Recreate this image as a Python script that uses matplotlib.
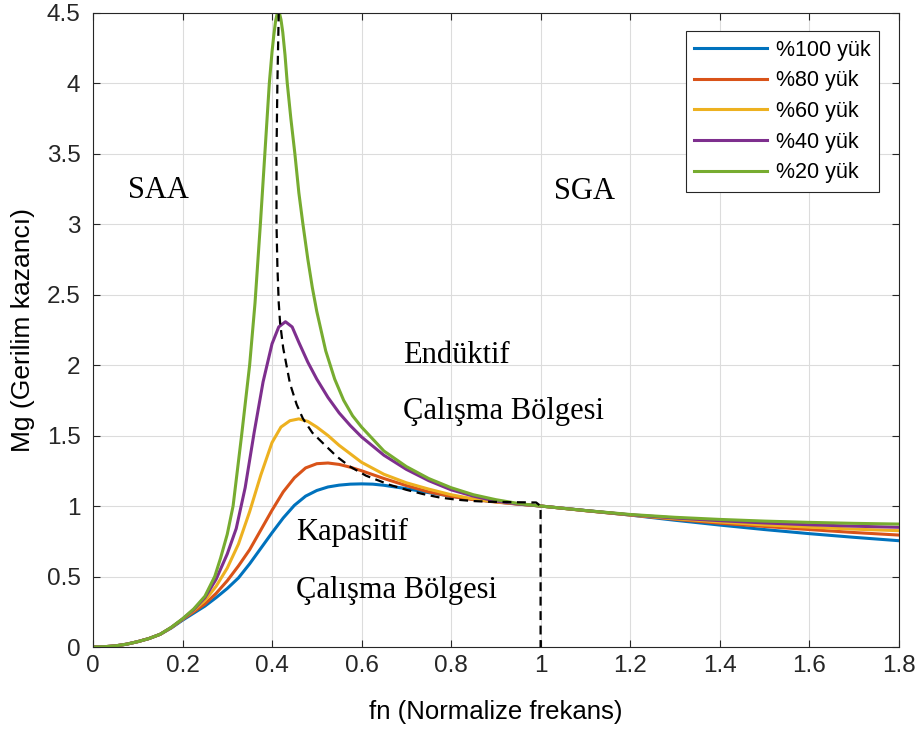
import matplotlib.pyplot as plt

# Gain curves Mg(fn) for different load levels
fn_100 = [0, 0.025, 0.05, 0.075, 0.1, 0.125, 0.15, 0.175, 0.2, 0.225, 0.25, 0.275, 0.3, 0.325, 0.35, 0.375, 0.4, 0.425, 0.45, 0.475, 0.5, 0.525, 0.55, 0.575, 0.6, 0.625, 0.65, 0.7, 0.75, 0.8, 0.85, 0.9, 0.95, 1.0, 1.1, 1.2, 1.3, 1.4, 1.5, 1.6, 1.7, 1.8]
mg_100 = [0, 0.002, 0.008, 0.02, 0.038, 0.06, 0.09, 0.135, 0.19, 0.24, 0.29, 0.35, 0.415, 0.49, 0.59, 0.70, 0.81, 0.915, 1.005, 1.07, 1.11, 1.135, 1.148, 1.155, 1.157, 1.155, 1.147, 1.123, 1.095, 1.07, 1.048, 1.03, 1.014, 1.0, 0.968, 0.936, 0.899, 0.865, 0.833, 0.804, 0.778, 0.754]

fn_80 = [0, 0.025, 0.05, 0.075, 0.1, 0.125, 0.15, 0.175, 0.2, 0.225, 0.25, 0.275, 0.3, 0.325, 0.35, 0.375, 0.4, 0.425, 0.45, 0.475, 0.5, 0.525, 0.55, 0.575, 0.6, 0.65, 0.7, 0.75, 0.8, 0.85, 0.9, 0.95, 1.0, 1.1, 1.2, 1.3, 1.4, 1.5, 1.6, 1.7, 1.8]
mg_80 = [0, 0.002, 0.008, 0.02, 0.038, 0.06, 0.09, 0.137, 0.195, 0.25, 0.305, 0.38, 0.47, 0.575, 0.69, 0.83, 0.97, 1.10, 1.20, 1.27, 1.30, 1.305, 1.295, 1.275, 1.25, 1.195, 1.145, 1.10, 1.068, 1.045, 1.028, 1.013, 1.0, 0.967, 0.936, 0.906, 0.878, 0.855, 0.833, 0.812, 0.794]

fn_60 = [0, 0.025, 0.05, 0.075, 0.1, 0.125, 0.15, 0.175, 0.2, 0.225, 0.25, 0.275, 0.3, 0.325, 0.35, 0.375, 0.4, 0.42, 0.44, 0.46, 0.48, 0.5, 0.525, 0.55, 0.575, 0.6, 0.65, 0.7, 0.75, 0.8, 0.85, 0.9, 0.95, 1.0, 1.1, 1.2, 1.3, 1.4, 1.5, 1.6, 1.7, 1.8]
mg_60 = [0, 0.002, 0.008, 0.02, 0.038, 0.06, 0.09, 0.138, 0.197, 0.26, 0.33, 0.43, 0.56, 0.73, 0.96, 1.22, 1.45, 1.56, 1.605, 1.618, 1.60, 1.56, 1.50, 1.43, 1.37, 1.31, 1.225, 1.165, 1.12, 1.08, 1.05, 1.03, 1.014, 1.0, 0.967, 0.937, 0.91, 0.887, 0.866, 0.85, 0.836, 0.825]

fn_40 = [0, 0.025, 0.05, 0.075, 0.1, 0.125, 0.15, 0.175, 0.2, 0.225, 0.25, 0.275, 0.3, 0.32, 0.34, 0.36, 0.38, 0.4, 0.415, 0.43, 0.445, 0.46, 0.48, 0.5, 0.525, 0.55, 0.575, 0.6, 0.65, 0.7, 0.75, 0.8, 0.85, 0.9, 0.95, 1.0, 1.1, 1.2, 1.3, 1.4, 1.5, 1.6, 1.7, 1.8]
mg_40 = [0, 0.002, 0.008, 0.02, 0.038, 0.06, 0.09, 0.139, 0.198, 0.265, 0.35, 0.48, 0.66, 0.84, 1.13, 1.52, 1.88, 2.15, 2.27, 2.307, 2.27, 2.16, 2.02, 1.90, 1.77, 1.66, 1.57, 1.49, 1.36, 1.26, 1.18, 1.115, 1.07, 1.035, 1.014, 1.0, 0.968, 0.938, 0.915, 0.896, 0.88, 0.867, 0.857, 0.849]

fn_20 = [0, 0.025, 0.05, 0.075, 0.1, 0.125, 0.15, 0.175, 0.2, 0.225, 0.25, 0.272, 0.285, 0.3, 0.313, 0.332, 0.35, 0.362, 0.374, 0.384, 0.394, 0.4, 0.404, 0.408, 0.411, 0.414, 0.417, 0.42, 0.424, 0.429, 0.434, 0.442, 0.451, 0.46, 0.469, 0.48, 0.49, 0.5, 0.52, 0.54, 0.56, 0.58, 0.6, 0.65, 0.7, 0.75, 0.8, 0.85, 0.9, 0.95, 1.0, 1.1, 1.2, 1.3, 1.4, 1.5, 1.6, 1.7, 1.8]
mg_20 = [0, 0.002, 0.008, 0.02, 0.038, 0.06, 0.09, 0.14, 0.2, 0.27, 0.36, 0.5, 0.63, 0.8, 1.0, 1.5, 2.0, 2.44, 3.0, 3.5, 4.0, 4.22, 4.34, 4.44, 4.485, 4.5, 4.49, 4.45, 4.36, 4.2, 4.0, 3.75, 3.5, 3.22, 3.0, 2.75, 2.55, 2.38, 2.1, 1.9, 1.75, 1.64, 1.56, 1.39, 1.28, 1.195, 1.13, 1.08, 1.045, 1.018, 1.0, 0.968, 0.94, 0.92, 0.905, 0.893, 0.884, 0.877, 0.872]

# Boundary between capacitive and inductive operation
fn_border = [0.415, 0.412, 0.41, 0.41, 0.412, 0.415, 0.418, 0.425, 0.44, 0.455, 0.469, 0.49, 0.514, 0.545, 0.574, 0.61, 0.663, 0.7, 0.737, 0.775, 0.812, 0.85, 0.886, 0.94, 0.99, 1.0, 1.0]
mg_border = [4.5, 4.0, 3.5, 3.0, 2.7, 2.44, 2.3, 2.12, 1.87, 1.72, 1.62, 1.52, 1.445, 1.35, 1.28, 1.215, 1.15, 1.115, 1.085, 1.06, 1.045, 1.035, 1.03, 1.027, 1.025, 1.0, 0.0]

series = [(fn_100, mg_100, '%100 yük', '#0072BD'),
          (fn_80, mg_80, '%80 yük', '#D95319'),
          (fn_60, mg_60, '%60 yük', '#EDB120'),
          (fn_40, mg_40, '%40 yük', '#7E2F8E'),
          (fn_20, mg_20, '%20 yük', '#77AC30')]

plt.rcParams['font.family'] = ['Liberation Sans', 'DejaVu Sans']

fig = plt.figure(figsize=(9.17, 7.31), dpi=100)
ax = fig.add_axes([0.1014, 0.1149, 0.8786, 0.8680])

for x, y, label, color in series:
    ax.plot(x, y, color=color, lw=2.2, label=label, solid_joinstyle='round')
ax.plot(fn_border, mg_border, 'k--', lw=1.6, dashes=(4, 2.5))

ax.set_xlim(0, 1.8)
ax.set_ylim(0, 4.5)
ax.set_xticks([0, 0.2, 0.4, 0.6, 0.8, 1, 1.2, 1.4, 1.6, 1.8])
ax.set_xticklabels(['0', '0.2', '0.4', '0.6', '0.8', '1', '1.2', '1.4', '1.6', '1.8'])
ax.set_yticks([0, 0.5, 1, 1.5, 2, 2.5, 3, 3.5, 4, 4.5])
ax.set_yticklabels(['0', '0.5', '1', '1.5', '2', '2.5', '3', '3.5', '4', '4.5'])
ax.grid(True, color='#dcdcdc', lw=0.8)
ax.set_axisbelow(True)
ax.tick_params(direction='in', top=True, right=True, labelsize=17.5, colors='#262626', length=5)
ax.tick_params(axis='x', pad=6)
ax.tick_params(axis='y', pad=9)
for s in ax.spines.values():
    s.set_color('#262626')
    s.set_linewidth(0.8)

ax.set_xlabel('fn (Normalize frekans)', fontsize=18.5, labelpad=16)
ax.set_ylabel('Mg (Gerilim kazancı)', fontsize=19, labelpad=8)

serif = ['Liberation Serif', 'DejaVu Serif']
ax.text(0.078, 3.24, 'SAA', family=serif, fontsize=22, va='center')
ax.text(1.03, 3.23, 'SGA', family=serif, fontsize=22, va='center')
ax.text(0.692, 2.07, 'Endüktif', family=serif, fontsize=22, va='center')
ax.text(0.692, 1.67, 'Çalışma Bölgesi', family=serif, fontsize=22, va='center')
ax.text(0.453, 0.81, 'Kapasitif', family=serif, fontsize=22, va='center')
ax.text(0.453, 0.40, 'Çalışma Bölgesi', family=serif, fontsize=22, va='center')

leg = ax.legend(loc='upper right', bbox_to_anchor=(0.976, 0.971), fontsize=15.5,
                fancybox=False, edgecolor='#262626', framealpha=1,
                handlelength=3.4, labelspacing=0.45, borderpad=0.4, handletextpad=0.4,
                borderaxespad=0)
leg.get_frame().set_linewidth(0.8)

fig.savefig('out.png', dpi=100)
